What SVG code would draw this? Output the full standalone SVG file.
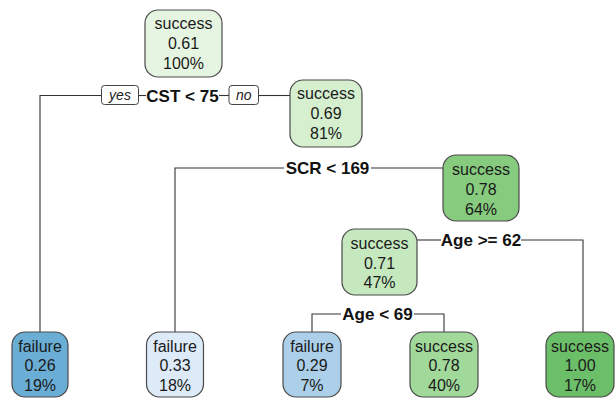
<svg xmlns="http://www.w3.org/2000/svg" width="615" height="400" viewBox="0 0 615 400">
<style>
.box{stroke:#4a4a4a;stroke-width:1.2}
.nt{font-family:"Liberation Sans",Arial,sans-serif;font-size:16px;fill:#1a1a1a;text-anchor:middle}
.st{font-family:"Liberation Sans",Arial,sans-serif;font-size:17px;font-weight:bold;fill:#111;text-anchor:middle}
.yn{font-family:"Liberation Sans",Arial,sans-serif;font-size:14px;font-style:italic;fill:#222;text-anchor:middle}
.ynbox{fill:#fff;stroke:#444;stroke-width:1}
.ln{fill:none;stroke:#333;stroke-width:1.1}
</style>
<rect width="615" height="400" fill="#fff"/>
<g id="connectors">
<path class="ln" d="M40,332 V95.5 H101.5"/>
<path class="ln" d="M138.5,95.5 H146"/>
<path class="ln" d="M219,95.5 H229"/>
<path class="ln" d="M258.5,95.5 H290"/>
<path class="ln" d="M175,332 V168 H284"/>
<path class="ln" d="M371,168 H443"/>
<path class="ln" d="M417,240 H441"/>
<path class="ln" d="M521,240 H583 V332"/>
<path class="ln" d="M312,332 V314 H341"/>
<path class="ln" d="M414,314 H444 V332"/>
</g>
<g id="split1">
<rect class="ynbox" x="101.5" y="85.5" width="37" height="19" rx="3"/>
<text class="yn" x="120" y="100">yes</text>
<text class="st" x="182.5" y="101.5">CST &lt; 75</text>
<rect class="ynbox" x="229" y="85.5" width="29.5" height="19" rx="3"/>
<text class="yn" x="243.75" y="100">no</text>
</g>
<g id="split2"><text class="st" x="327.5" y="173.5">SCR &lt; 169</text></g>
<g id="split3"><text class="st" x="481" y="246">Age &gt;= 62</text></g>
<g id="split4"><text class="st" x="377.5" y="320">Age &lt; 69</text></g>
<g id="n1">
<rect class="box" x="145" y="10" width="77" height="67" rx="13" fill="#E6F5E1"/>
<text class="nt" x="183.5" y="29">success</text><text class="nt" x="183.5" y="49">0.61</text><text class="nt" x="183.5" y="68.5">100%</text>
</g>
<g id="n2">
<rect class="box" x="290" y="80" width="72" height="67" rx="13" fill="#D5EFCF"/>
<text class="nt" x="326" y="99">success</text><text class="nt" x="326" y="119">0.69</text><text class="nt" x="326" y="138.5">81%</text>
</g>
<g id="n3">
<rect class="box" x="443" y="155" width="76" height="66" rx="13" fill="#86CB7E"/>
<text class="nt" x="481" y="175">success</text><text class="nt" x="481" y="195">0.78</text><text class="nt" x="481" y="214.5">64%</text>
</g>
<g id="n4">
<rect class="box" x="342" y="229" width="75" height="66" rx="13" fill="#C5E8BF"/>
<text class="nt" x="379.5" y="248.5">success</text><text class="nt" x="379.5" y="268.5">0.71</text><text class="nt" x="379.5" y="288">47%</text>
</g>
<g id="leaf1">
<rect class="box" x="12" y="332" width="56" height="65" rx="13" fill="#6AAED6"/>
<text class="nt" x="40" y="351.5">failure</text><text class="nt" x="40" y="371">0.26</text><text class="nt" x="40" y="390.5">19%</text>
</g>
<g id="leaf2">
<rect class="box" x="146.5" y="332" width="57" height="65" rx="13" fill="#DDEAF7"/>
<text class="nt" x="175" y="351.5">failure</text><text class="nt" x="175" y="371">0.33</text><text class="nt" x="175" y="390.5">18%</text>
</g>
<g id="leaf3">
<rect class="box" x="283" y="332" width="58" height="65" rx="13" fill="#ADD0EA"/>
<text class="nt" x="312" y="351.5">failure</text><text class="nt" x="312" y="371">0.29</text><text class="nt" x="312" y="390.5">7%</text>
</g>
<g id="leaf4">
<rect class="box" x="410" y="332" width="68" height="65" rx="13" fill="#A1D99A"/>
<text class="nt" x="444" y="351.5">success</text><text class="nt" x="444" y="371">0.78</text><text class="nt" x="444" y="390.5">40%</text>
</g>
<g id="leaf5">
<rect class="box" x="546" y="332" width="68" height="65" rx="13" fill="#6CBF69"/>
<text class="nt" x="580" y="351.5">success</text><text class="nt" x="580" y="371">1.00</text><text class="nt" x="580" y="390.5">17%</text>
</g>
</svg>
